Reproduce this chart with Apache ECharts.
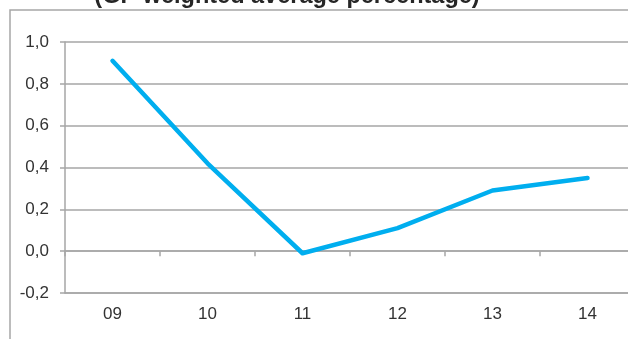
<!DOCTYPE html>
<html>
<head>
<meta charset="utf-8">
<script src="https://cdn.jsdelivr.net/npm/echarts@6/dist/echarts.min.js"></script>
<style>html,body{margin:0;padding:0;background:#fff}#c{width:628px;height:339px}</style>
</head>
<body>
<div id="c"></div>
<script>
const categories = ['09', '10', '11', '12', '13', '14'];
const values = [0.91, 0.42, -0.01, 0.11, 0.29, 0.35];
const yTicks = { min: -0.2, max: 1.0, interval: 0.2 };
const titleText = '(GP weighted average percentage)';

const chart = echarts.init(document.getElementById('c'), null, { renderer: 'canvas' });
const grey = '#a6a6a6';
const txt = '#333333';
const font = 'Liberation Sans, Arial, sans-serif';
chart.setOption({
  animation: false,
  backgroundColor: '#fff',
  graphic: [
    { type: 'rect', shape: { x: 10, y: 10, width: 700, height: 400 }, style: { fill: 'none', stroke: grey, lineWidth: 1.5 }, z: 0 },
    { type: 'text', x: 287, y: 9, style: { text: titleText, fill: '#262626', font: 'bold 23.5px Liberation Sans, Arial, sans-serif', textAlign: 'center', textVerticalAlign: 'bottom' }, z: 10 }
  ],
  grid: { left: 65, top: 42, bottom: 46, width: 570, containLabel: false, outerBoundsMode: 'none' },
  xAxis: [
    {
      type: 'category', data: categories, position: 'bottom', boundaryGap: true,
      axisLine: { onZero: false, show: true, lineStyle: { color: grey, width: 1.5 } },
      axisTick: { show: false },
      axisLabel: { color: txt, fontSize: 17, fontFamily: font, margin: 13 },
      splitLine: { show: false }
    },
    {
      type: 'category', data: categories, position: 'top', boundaryGap: true,
      axisLine: { onZero: true, show: true, lineStyle: { color: grey, width: 1.5 } },
      axisTick: { show: true, inside: true, length: 5, lineStyle: { color: grey, width: 1.5 } },
      axisLabel: { show: false },
      splitLine: { show: false }
    }
  ],
  yAxis: {
    type: 'value', min: yTicks.min, max: yTicks.max, interval: yTicks.interval,
    axisLine: { show: true, lineStyle: { color: grey, width: 1.5 } },
    axisTick: { show: true, length: 5, lineStyle: { color: grey, width: 1.5 } },
    axisLabel: { color: txt, fontSize: 17, fontFamily: font, margin: 16,
      formatter: v => v.toFixed(1).replace('.', ',') },
    splitLine: { show: true, lineStyle: { color: grey, width: 1.5 } }
  },
  series: [{
    type: 'line', data: values, xAxisIndex: 0, yAxisIndex: 0,
    showSymbol: false, symbol: 'none',
    lineStyle: { color: '#00aeef', width: 4.5, cap: 'round', join: 'round' },
    z: 5
  }]
});
</script>
</body>
</html>
